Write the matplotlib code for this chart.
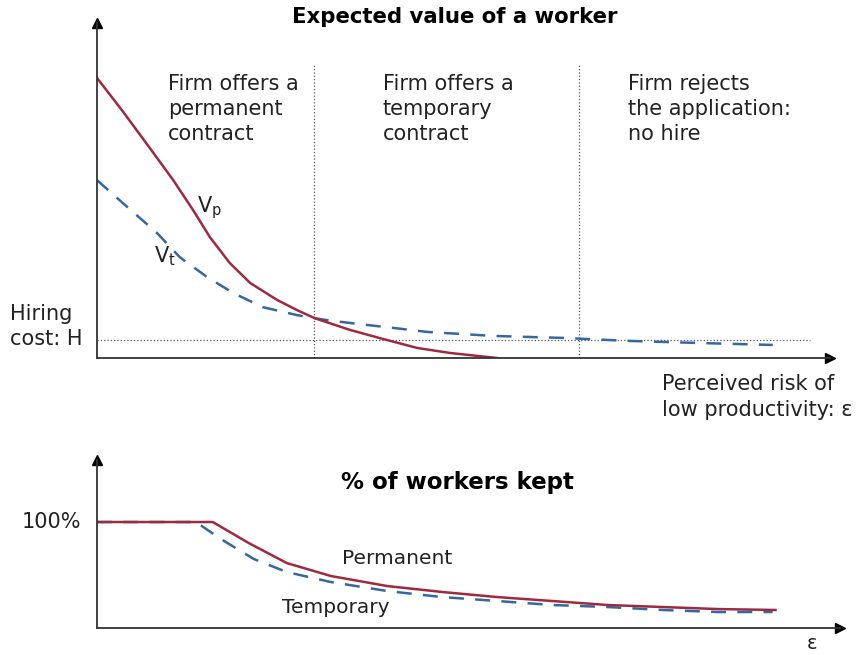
import matplotlib
matplotlib.use('Agg')
import matplotlib.pyplot as plt

# top panel: expected value of a worker (x = perceived risk, y = value)
vp_x = [0, 3.5, 7.2, 10.4, 13.1, 15.4, 18.1, 20.9, 24.6, 27.3, 29.7, 34.5, 39.0, 43.7, 48.2, 54.6]
vp_y = [83.6, 73.7, 62.7, 53.1, 44.2, 36.1, 28.4, 22.4, 17.3, 14.3, 11.9, 8.4, 5.7, 3.0, 1.5, 0.0]
vt_x = [0, 3.5, 8.2, 11.3, 15.0, 18.6, 22.6, 27.3, 29.7, 31.4, 35.9, 40.4, 45.0, 49.5, 54.0,
        63.6, 72.7, 81.9, 92.2]
vt_y = [53.1, 46.3, 37.3, 30.1, 24.2, 19.4, 15.2, 12.8, 11.9, 11.3, 10.1, 9.0, 7.8, 7.2, 6.6,
        6.0, 5.1, 4.5, 3.9]
hiring_cost = 5.4
thresholds = [29.6, 65.8]
regions = ['Firm offers a\npermanent\ncontract',
           'Firm offers a\ntemporary\ncontract',
           'Firm rejects\nthe application:\nno hire']
region_x = [9.7, 39.0, 72.4]

# bottom panel: % of workers kept
perm_x = [0, 15.8, 20.7, 25.9, 31.9, 39.6, 47.1, 54.6, 62.1, 69.7, 77.2, 84.7, 92.6]
perm_y = [100, 100, 80.2, 61.3, 49.1, 39.6, 34.0, 29.2, 25.5, 21.7, 19.8, 17.9, 17.0]
temp_x = [0, 13.5, 16.9, 21.4, 25.9, 31.9, 39.6, 47.1, 54.6, 62.1, 69.7, 77.2, 84.7, 92.2]
temp_y = [100, 100, 84.0, 65.1, 52.8, 43.4, 34.9, 29.2, 25.5, 21.7, 19.8, 17.0, 15.1, 15.1]

red = '#9e2a3f'
blue = '#35689e'
txt = '#222222'
axc = '#333333'
dash = (0, (6, 4.5))

fig = plt.figure(figsize=(8.62, 6.55), dpi=100)
ax1 = fig.add_axes([0.1125, 0.4534, 0.8503, 0.5115])
ax2 = fig.add_axes([0.1125, 0.0412, 0.862, 0.2565])


def arrow_axes(ax):
    for s in ['top', 'right']:
        ax.spines[s].set_visible(False)
    for s in ['left', 'bottom']:
        ax.spines[s].set_color(axc)
        ax.spines[s].set_linewidth(1.3)
    ax.plot(1, 0, '>', color='black', ms=7, transform=ax.transAxes, clip_on=False)
    ax.plot(0, 1, '^', color='black', ms=7, transform=ax.transAxes, clip_on=False)
    ax.set_xticks([])
    ax.set_yticks([])


arrow_axes(ax1)
ax1.set_xlim(0, 100)
ax1.set_ylim(0, 100)
ax1.plot([0, 97.3], [hiring_cost, hiring_cost], ':', color='#555555', lw=0.9)
for t in thresholds:
    ax1.plot([t, t], [0, 87.8], ':', color='#555555', lw=0.9)
ax1.plot(vt_x, vt_y, color=blue, lw=1.8, linestyle=dash)
ax1.plot(vp_x, vp_y, color=red, lw=1.8)
for x, s in zip(region_x, regions):
    ax1.text(x, 84.8, s, fontsize=15, color=txt, va='top', ha='left', linespacing=1.33)
ax1.text(13.6, 44.8, r'V$_\mathregular{p}$', fontsize=15, color=txt, va='center')
ax1.text(7.8, 30.4, r'V$_\mathregular{t}$', fontsize=15, color=txt, va='center')
ax1.text(-11.9, 9.4, 'Hiring\ncost: H', fontsize=15, color=txt, va='center', ha='left',
         linespacing=1.33, clip_on=False)
ax1.text(77.1, -11.6, 'Perceived risk of\nlow productivity: ε', fontsize=15, color=txt,
         va='center', ha='left', linespacing=1.33, clip_on=False)

arrow_axes(ax2)
ax2.set_xlim(0, 101.4)
ax2.set_ylim(0, 158.5)
ax2.plot(temp_x, temp_y, color=blue, lw=1.8, linestyle=dash)
ax2.plot(perm_x, perm_y, color=red, lw=1.8)
ax2.text(-2.2, 100, '100%', fontsize=15, color=txt, va='center', ha='right')
ax2.text(33.4, 66, 'Permanent', fontsize=14.5, color=txt, va='center', ha='left')
ax2.text(25.2, 19.8, 'Temporary', fontsize=14.5, color=txt, va='center', ha='left')
ax2.text(96.8, -14.2, 'ε', fontsize=14, color=txt, va='center', ha='left', clip_on=False)

fig.text(0.528, 0.974, 'Expected value of a worker', fontsize=15.3, fontweight='bold',
         color='black', ha='center', va='center')
fig.text(0.531, 0.2626, '% of workers kept', fontsize=16.5, fontweight='bold',
         color='black', ha='center', va='center')

fig.savefig('out.png', dpi=100)
